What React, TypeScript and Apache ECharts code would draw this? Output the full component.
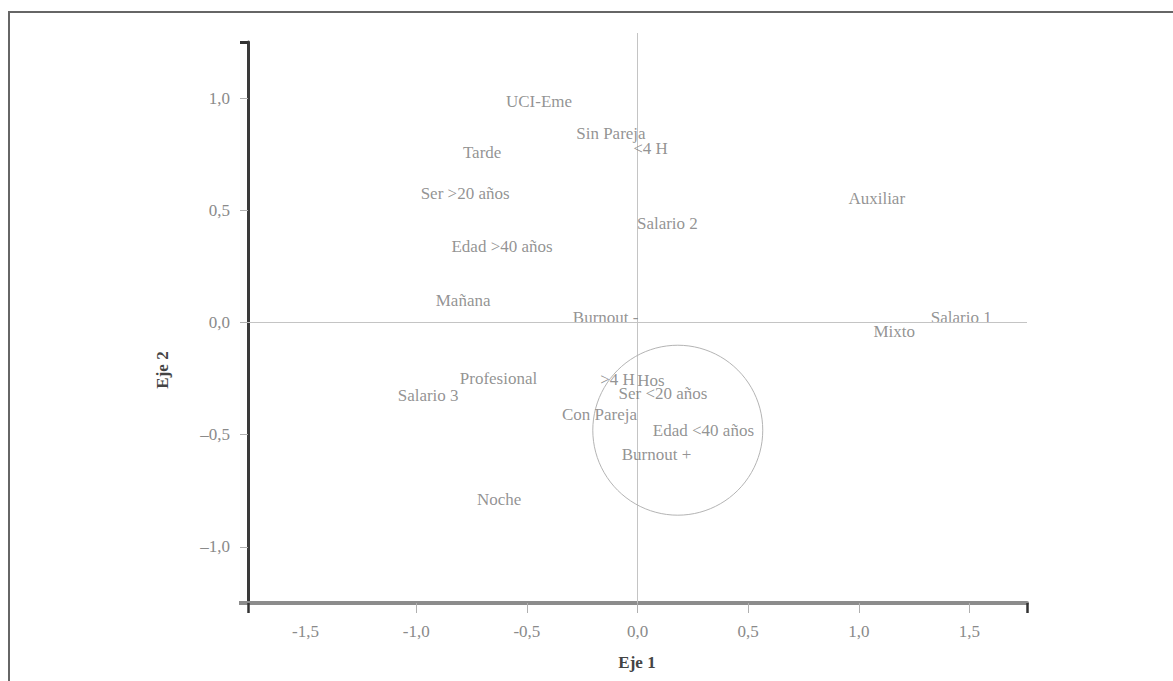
import React, { useEffect, useRef } from "react";
import * as echarts from "echarts";

const labelNames = [
  "UCI-Eme", "Sin Pareja", "<4 H", "Tarde", "Ser >20 años", "Auxiliar", "Salario 2",
  "Edad >40 años", "Mañana", "Burnout -", "Salario 1", "Mixto", "Profesional", ">4 H",
  "Hos", "Salario 3", "Ser <20 años", "Con Pareja", "Edad <40 años", "Burnout +", "Noche",
];
const eje1 = [
  -0.445, -0.12, 0.059, -0.702, -0.779, 1.081, 0.135,
  -0.612, -0.788, -0.144, 1.463, 1.16, -0.628, -0.09,
  0.061, -0.946, 0.115, -0.172, 0.298, 0.086, -0.625,
];
const eje2 = [
  0.983, 0.842, 0.775, 0.758, 0.576, 0.554, 0.441,
  0.338, 0.098, 0.024, 0.024, -0.042, -0.251, -0.254,
  -0.259, -0.326, -0.318, -0.411, -0.481, -0.589, -0.787,
];
const xTickLabels = [-1.5, -1, -0.5, 0, 0.5, 1, 1.5];
const xTickMarks = [-1, -0.5, 0, 0.5, 1, 1.5];
const yTickLabels = [-1, -0.5, 0, 0.5, 1];
const xMin = -1.76;
const xMax = 1.76;
const yMin = -1.25;
const yMax = 1.25;
// vertical zero line: x, from y, to y
const zeroLineData = [[0, -1.25, 1.29]];
// circle: centre x, centre y, radius (in Eje 1 units)
const circleData = [[0.182, -0.48, 0.384]];

const FONT = '"Liberation Serif", "DejaVu Serif", serif';

export default function App() {
  const ref = useRef<HTMLDivElement>(null);
  useEffect(() => {
    if (!ref.current) return;
    const chart = echarts.init(ref.current, null, { renderer: "svg" });
    const fmtX = (v: number) => v.toFixed(1).replace(".", ",");
    const fmtY = (v: number) => v.toFixed(1).replace(".", ",").replace("-", "–");
    const option: any = {
      animation: false,
      backgroundColor: "#ffffff",
      grid: { left: 248, right: 146, top: 42, bottom: 78 },
      xAxis: [
        {
          type: "value",
          min: xMin,
          max: xMax,
          axisLine: { show: true, onZero: false, lineStyle: { color: "#8c8c8c", width: 4 } },
          axisTick: { show: true, length: 10, customValues: xTickMarks, lineStyle: { color: "#b0b0b0", width: 1 } },
          axisLabel: {
            customValues: xTickLabels,
            formatter: fmtX,
            margin: 20,
            color: "#8a8a8a",
            fontFamily: FONT,
            fontSize: 17,
          },
          splitLine: { show: false },
        },
        {
          type: "value",
          min: xMin,
          max: xMax,
          position: "bottom",
          axisLine: { show: false, onZero: false },
          axisTick: { show: true, length: 10, customValues: [xMin, xMax], lineStyle: { color: "#333333", width: 2.5 } },
          axisLabel: { show: false },
          splitLine: { show: false },
        },
      ],
      yAxis: [
        {
          type: "value",
          min: yMin,
          max: yMax,
          axisLine: { show: true, onZero: false, lineStyle: { color: "#3a3a3a", width: 3 } },
          axisTick: { show: true, length: 8, customValues: yTickLabels, lineStyle: { color: "#b0b0b0", width: 1 } },
          axisLabel: {
            customValues: yTickLabels,
            formatter: fmtY,
            margin: 18,
            color: "#8a8a8a",
            fontFamily: FONT,
            fontSize: 17,
          },
          splitLine: { show: false },
        },
        {
          type: "value",
          min: yMin,
          max: yMax,
          position: "left",
          axisLine: { show: false, onZero: false },
          axisTick: { show: true, length: 8, customValues: [yMax], lineStyle: { color: "#333333", width: 3 } },
          axisLabel: { show: false },
          splitLine: { show: false },
        },
        {
          type: "value",
          min: yMin,
          max: yMax,
          position: "left",
          axisLine: { show: false, onZero: false },
          axisTick: { show: true, length: 9, customValues: [yMin], lineStyle: { color: "#8c8c8c", width: 4 } },
          axisLabel: { show: false },
          splitLine: { show: false },
        },
      ],
      graphic: [
        {
          type: "polyline",
          shape: { points: [[9, 681], [9, 12], [1173, 12]] },
          style: { stroke: "#666666", lineWidth: 2, fill: null },
          silent: true,
        },
        {
          type: "text",
          x: 637,
          y: 662,
          style: { text: "Eje 1", font: `bold 17px ${FONT}`, fill: "#444444", align: "center", verticalAlign: "middle" },
        },
        {
          type: "text",
          x: 162,
          y: 370,
          rotation: Math.PI / 2,
          style: { text: "Eje 2", font: `bold 17px ${FONT}`, fill: "#444444", align: "center", verticalAlign: "middle" },
        },
      ],
      series: [
        {
          type: "scatter",
          xAxisIndex: 0,
          yAxisIndex: 0,
          symbolSize: 1,
          itemStyle: { color: "rgba(0,0,0,0)" },
          silent: true,
          data: labelNames.map((n, i) => ({ name: n, value: [eje1[i], eje2[i]] })),
          label: {
            show: true,
            position: "inside",
            formatter: (p: any) => p.name,
            color: "#777777",
            fontFamily: FONT,
            fontSize: 17,
          },
          markLine: {
            silent: true,
            symbol: "none",
            label: { show: false },
            lineStyle: { color: "#c4c4c4", width: 1, type: "solid" },
            data: [{ yAxis: 0 }],
          },
          z: 3,
        },
        {
          type: "custom",
          xAxisIndex: 0,
          yAxisIndex: 0,
          silent: true,
          clip: false,
          data: zeroLineData,
          renderItem: (params: any, api: any) => {
            const a = api.coord([api.value(0), api.value(1)]);
            const b = api.coord([api.value(0), api.value(2)]);
            return {
              type: "line",
              shape: { x1: a[0], y1: a[1], x2: b[0], y2: b[1] },
              style: { stroke: "#c4c4c4", lineWidth: 1 },
            };
          },
          z: 1,
        },
        {
          type: "custom",
          xAxisIndex: 0,
          yAxisIndex: 0,
          silent: true,
          data: circleData,
          renderItem: (params: any, api: any) => {
            const c = api.coord([api.value(0), api.value(1)]);
            const s = api.size([api.value(2), api.value(2)]);
            return {
              type: "circle",
              shape: { cx: c[0], cy: c[1], r: s[0] },
              style: { fill: "none", stroke: "#b4b4b4", lineWidth: 1 },
            };
          },
          z: 2,
        },
      ],
    };
    chart.setOption(option);
    return () => chart.dispose();
  }, []);
  return (
    <div
      ref={ref}
      style={{ position: "fixed", left: 0, top: 0, width: 1173, height: 681, background: "#fff" }}
    />
  );
}
